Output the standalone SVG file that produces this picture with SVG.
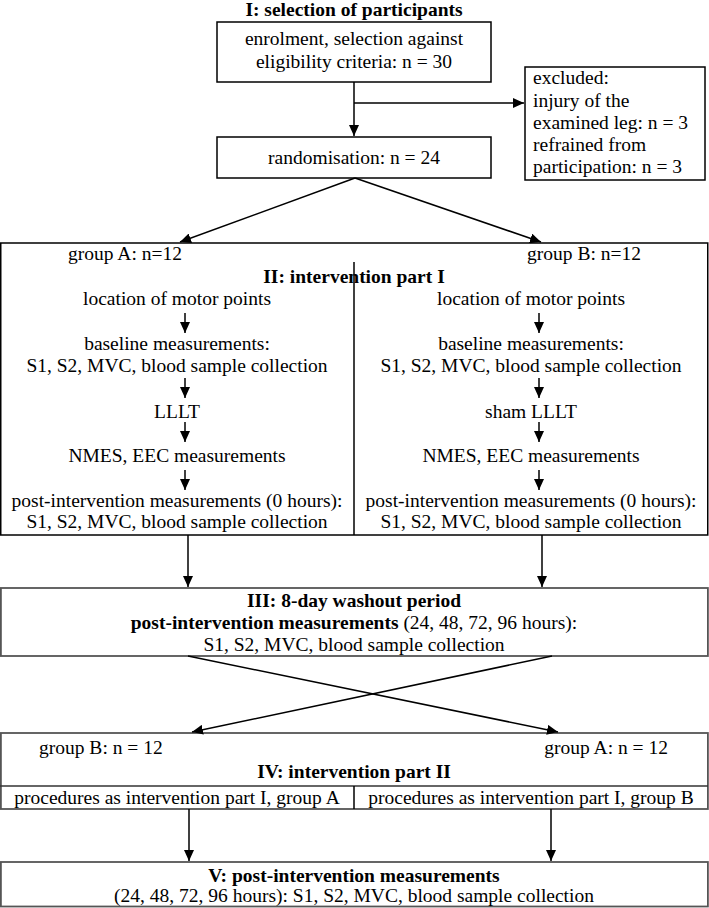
<svg xmlns="http://www.w3.org/2000/svg" width="709" height="908" viewBox="0 0 709 908">
<style>
text{font-family:"Liberation Serif","Times New Roman",serif;font-size:19.5px;fill:#000}
.c{text-anchor:middle}
.b{font-weight:bold}
.box{fill:#fff;stroke:#000;stroke-width:1.5}
.gbox{fill:#fff;stroke:#555;stroke-width:1.8}
.ln{stroke:#000;stroke-width:1.5;fill:none}
.ar{stroke:#000;stroke-width:1.5;fill:none;marker-end:url(#ah)}
</style>
<defs>
<marker id="ah" markerUnits="userSpaceOnUse" markerWidth="12" markerHeight="10" refX="11" refY="5" orient="auto">
<path d="M0,0 L11,5 L0,10 z" fill="#000"/>
</marker>
</defs>
<rect width="709" height="908" fill="#fff"/>

<g id="title1"><text class="c b" x="354" y="16">I: selection of participants</text></g>

<g id="enrolment">
<rect class="box" x="217" y="22" width="274" height="60"/>
<text class="c" x="354" y="45">enrolment, selection against</text>
<text class="c" x="354" y="68">eligibility criteria: n = 30</text>
</g>

<g id="excluded">
<rect class="box" x="525" y="67" width="180" height="113"/>
<text x="533" y="84">excluded:</text>
<text x="533" y="107">injury of the</text>
<text x="533" y="129">examined leg: n = 3</text>
<text x="533" y="151">refrained from</text>
<text x="533" y="173">participation: n = 3</text>
</g>

<g id="randomisation">
<rect class="box" x="217" y="137" width="274" height="41"/>
<text class="c" x="354" y="164">randomisation: n = 24</text>
</g>

<g id="intervention1">
<rect class="box" x="0.75" y="243" width="707" height="292"/>
<line class="ln" x1="354" y1="262" x2="354" y2="535"/>
<text class="c" x="125" y="260">group A: n=12</text>
<text class="c" x="584" y="260">group B: n=12</text>
<text class="c b" x="354" y="283">II: intervention part I</text>
<text class="c" x="177" y="305">location of motor points</text>
<text class="c" x="177" y="350">baseline measurements:</text>
<text class="c" x="177" y="372">S1, S2, MVC, blood sample collection</text>
<text class="c" x="177" y="418">LLLT</text>
<text class="c" x="177" y="462">NMES, EEC measurements</text>
<text class="c" x="177" y="507">post-intervention measurements (0 hours):</text>
<text class="c" x="177" y="528">S1, S2, MVC, blood sample collection</text>
<text class="c" x="531" y="305">location of motor points</text>
<text class="c" x="531" y="350">baseline measurements:</text>
<text class="c" x="531" y="372">S1, S2, MVC, blood sample collection</text>
<text class="c" x="531" y="418">sham LLLT</text>
<text class="c" x="531" y="462">NMES, EEC measurements</text>
<text class="c" x="531" y="507">post-intervention measurements (0 hours):</text>
<text class="c" x="531" y="528">S1, S2, MVC, blood sample collection</text>
</g>

<g id="washout">
<rect class="gbox" x="0.9" y="588" width="707" height="68"/>
<text class="c b" x="354" y="607">III: 8-day washout period</text>
<text class="c" x="354" y="629"><tspan class="b">post-intervention measurements</tspan> (24, 48, 72, 96 hours):</text>
<text class="c" x="354" y="651">S1, S2, MVC, blood sample collection</text>
</g>

<g id="intervention2">
<rect class="gbox" x="0.9" y="733" width="707" height="76"/>
<line class="ln" x1="0" y1="786" x2="708" y2="786" style="stroke:#333"/>
<line class="ln" x1="354" y1="786" x2="354" y2="809"/>
<text x="39" y="754">group B: n = 12</text>
<text x="668" y="754" style="text-anchor:end">group A: n = 12</text>
<text class="c b" x="354" y="778">IV: intervention part II</text>
<text class="c" x="177" y="804">procedures as intervention part I, group A</text>
<text class="c" x="531" y="804">procedures as intervention part I, group B</text>
</g>

<g id="postmeasure">
<rect class="gbox" x="0.9" y="862" width="707" height="44.5"/>
<text class="c b" x="354" y="882">V: post-intervention measurements</text>
<text class="c" x="354" y="902">(24, 48, 72, 96 hours): S1, S2, MVC, blood sample collection</text>
</g>

<g id="connectors">
<line class="ar" x1="354" y1="82" x2="354" y2="136"/>
<line class="ar" x1="354" y1="103" x2="524" y2="103"/>
<line class="ar" x1="355" y1="178" x2="180" y2="242"/>
<line class="ar" x1="355" y1="178" x2="541" y2="242"/>
<line class="ar" x1="185" y1="313" x2="185" y2="333"/>
<line class="ar" x1="185" y1="378" x2="185" y2="398"/>
<line class="ar" x1="185" y1="422" x2="185" y2="442"/>
<line class="ar" x1="185" y1="470" x2="185" y2="490"/>
<line class="ar" x1="539" y1="313" x2="539" y2="333"/>
<line class="ar" x1="539" y1="378" x2="539" y2="398"/>
<line class="ar" x1="539" y1="422" x2="539" y2="442"/>
<line class="ar" x1="539" y1="470" x2="539" y2="490"/>
<line class="ar" x1="188" y1="535" x2="188" y2="587"/>
<line class="ar" x1="542" y1="535" x2="542" y2="587"/>
<line class="ar" x1="188" y1="656" x2="558" y2="732"/>
<line class="ar" x1="552" y1="656" x2="192" y2="732"/>
<line class="ar" x1="189" y1="809" x2="189" y2="861"/>
<line class="ar" x1="551" y1="809" x2="551" y2="861"/>
</g>
</svg>
